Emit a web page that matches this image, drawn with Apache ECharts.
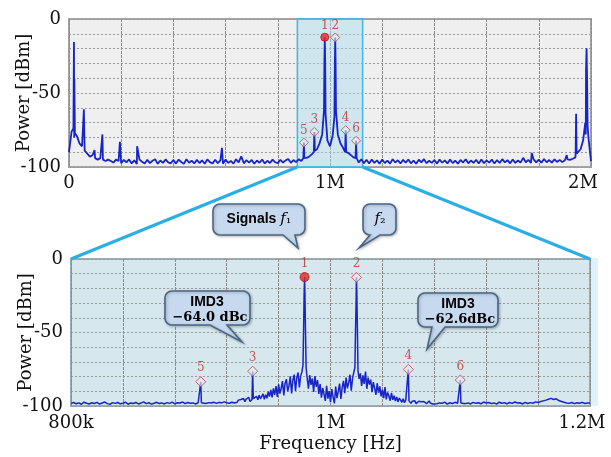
<!DOCTYPE html>
<html><head><meta charset="utf-8">
<script src="https://cdn.jsdelivr.net/npm/echarts@6/dist/echarts.min.js"></script>
<style>html,body{margin:0;padding:0;background:#fff}#c{width:611px;height:457px}</style>
</head><body><div id="c"></div>
<script>
// ---------- DATA ----------
// full-span spectrum, 0 .. 2 MHz, one reading every 10 kHz
const fullStart = 0, fullStep = 10000;
const fullNoise = [
 -90,-76,-80,-79,-84,-86,-89,-91,-93,-92,
 -94,-95,-94,-95,-96,-95,-96,-97,-95,-96,
 -97.5,-95.2,-96.8,-94.9,-97.6,-95.5,-97.9,-95.0,-96.4,-97.7,
 -95.1,-97.4,-95.8,-94.7,-97.8,-95.6,-97.2,-94.9,-96.9,-97.5,
 -95.3,-97.7,-95.0,-96.6,-97.9,-94.8,-97.1,-95.7,-97.6,-95.2,
 -97.3,-95.5,-97.8,-94.9,-96.7,-97.6,-95.1,-97.4,-95.6,-97.8,
 -95.0,-97.2,-95.9,-97.7,-94.8,-96.9,-92.8,-97.5,-95.4,-97.0,
 -95.2,-97.8,-95.6,-97.1,-94.9,-97.6,-95.8,-97.3,-95.0,-96.8,
 -97.4,-95.1,-97.0,-95.5,-94.6,-97.2,-95.3,-96.7,-94.8,-95.9,
 -95,-93.8,-93,-91.5,-90,-88,-84,-78,-80,-82,
 -86,-79,-80,-78,-84,-87,-89,-90.5,-92,-93.5,
 -94.3,-96.9,-94.8,-97.4,-95.1,-97.6,-94.9,-97.2,-95.5,-97.8,
 -95.0,-97.3,-95.7,-97.7,-94.8,-97.0,-95.4,-97.6,-95.2,-97.1,
 -94.9,-97.5,-95.6,-97.8,-95.1,-96.9,-94.7,-97.4,-95.8,-97.2,
 -95.3,-97.7,-94.9,-97.1,-95.5,-97.6,-95.0,-97.3,-95.7,-97.8,
 -95.2,-97.0,-94.8,-97.5,-95.6,-97.2,-95.1,-97.7,-94.9,-97.4,
 -95.5,-97.1,-95.0,-97.6,-95.3,-97.3,-94.7,-96.9,-95.4,-97.5,
 -94.9,-97.2,-95.6,-97.0,-93.8,-96.8,-95.2,-97.3,-94.8,-96.9,
 -95.1,-97.1,-94.6,-96.8,-95.3,-97.0,-94.9,-96.6,-95.2,-96.7,
 -95.4,-94.8,-95.2,-94.4,-93.5,-90,-88,-82,-78,-80,
 -96
];
// narrow spurs / peak shoulders on the full span [Hz, dBm]
const fullSpurs = [
 [17000,-74],[19000,-15.5],[20500,-40],[22500,-77],
 [57000,-61],[98000,-88.5],[128000,-78],[195000,-83],[261000,-86],[586000,-87],
 [898000,-94],[902000,-94],[938000,-90],[942000,-89],
 [977000,-62],[978500,-30],[981500,-28],[983000,-64],
 [1017000,-66],[1018500,-32],[1021500,-30],[1023000,-62],
 [1058000,-90],[1062000,-90],[1098000,-94],[1102000,-94],
 [1773000,-90.5],[1907000,-92],
 [1941000,-92],[1943000,-64],[1945000,-91],
 [1978000,-70],[1981000,-35],[1983000,-19.7],[1985000,-40],[1987000,-72]
];
// zoomed spectrum: floor 800-918 kHz (2 kHz step), skirt 920-1080 kHz (1 kHz step), floor 1082-1200 kHz (2 kHz step)
const zoomLowStart = 800000, zoomLowStep = 2000;
const zoomNoiseLow = [
 -98.2,-97.6,-98.5,-97.9,-98.8,-97.4,-98.1,-98.6,-97.8,-98.3,
 -97.5,-98.7,-98.0,-97.3,-98.4,-98.9,-97.7,-98.2,-97.6,-98.5,
 -98.1,-97.4,-98.8,-97.9,-98.3,-97.6,-98.6,-98.0,-97.2,-98.4,
 -97.8,-98.7,-98.1,-97.5,-98.3,-97.9,-98.6,-97.7,-98.2,-97.4,
 -98.5,-97.8,-98.0,-97.3,-98.4,-97.6,-98.1,-97.9,-98.6,-97.8,
 -98.0,-97.6,-98.3,-97.7,-98.0,-97.4,-98.2,-97.5,-97.9,-97.2
];
const zoomSkirtStart = 920000, zoomSkirtStep = 1000;
const zoomSkirt = [
 -97.8,-96.6,-98.1,-96.9,-97.4,-96.2,-98.0,-96.8,-97.5,-96.0,
 -97.2,-95.6,-96.8,-94.9,-97.0,-95.3,-96.4,-94.2,-96.9,-95.0,
 -96.0,-94.5,-96.2,-93.4,-95.8,-92.6,-95.1,-93.9,-91.8,-95.4,
 -92.4,-94.8,-90.3,-93.6,-89.1,-94.2,-88.0,-92.5,-86.4,-93.8,
 -85.2,-91.6,-87.9,-83.0,-92.8,-84.6,-81.7,-90.1,-86.3,-79.8,
 -91.4,-82.5,-78.6,-89.7,-80.9,-77.2,-87.3,-79.5,-76.8,-84.0,
 -80.0,
 -76.5,-80.8,-88.2,-78.9,-85.6,-81.3,-90.4,-79.6,-86.9,
 -82.4,-91.8,-85.0,-94.3,-87.6,-92.1,-96.5,-86.2,-95.0,-89.8,
 -97.4,-88.5,-93.9,-98.2,-86.8,-94.6,-89.9,-84.7,-95.2,-87.4,
 -82.9,-91.3,-80.6,-88.0,-84.2,-78.7,-89.5,-81.0,-76.9,-83.5,
 -80.0,
 -75.4,-81.6,-77.8,-86.4,-79.2,-84.9,-76.6,-88.3,-80.7,
 -85.5,-82.1,-90.6,-83.8,-87.9,-92.4,-84.5,-91.0,-86.7,-93.5,
 -88.9,-94.7,-87.2,-95.5,-90.8,-93.2,-96.4,-91.1,-95.8,-93.0,
 -96.6,-93.9,-97.2,-94.6,-96.0,-97.5,-95.1,-97.8,-95.9,-96.3,
 -97.0,
 -97.0,-98.2,-96.7,-97.9,-96.5,-98.4,-97.3,-96.8,-98.0,
 -97.1,-98.3,-96.9,-97.7,-98.5,-97.2,-96.6,-98.1,-97.4,-98.6,-97.8
];
const zoomHighStart = 1082000, zoomHighStep = 2000;
const zoomNoiseHigh = [
 -98.5,-97.9,-98.2,-97.4,-98.7,-97.8,-98.3,-97.5,-98.1,
 -98.0,-97.7,-98.4,-97.9,-98.6,-97.5,-98.2,-97.8,-98.5,-97.3,
 -98.0,-97.6,-98.4,-97.9,-98.7,-97.4,-98.1,-97.7,-98.5,-97.6,
 -98.2,-97.3,-98.0,-97.8,-98.6,-97.5,-98.3,-97.7,-98.1,-97.2,
 -97.6,-97.0,-96.5,-96.0,-95.4,-94.8,-95.6,-95.1,-96.3,-96.9,
 -97.5,-97.9,-98.2,-97.6,-98.4,-97.8,-98.1,-97.5,-98.3,-97.9,
 -98.0
];
const zoomSpurs = [
 [899500,-97.5],[900500,-97.8],[939500,-95.5],[940500,-95],
 [978800,-72],[979300,-46],[979700,-23],[980300,-24],[980700,-47],[981200,-74],
 [1018800,-74],[1019300,-48],[1019700,-31],[1020300,-23],[1020700,-46],[1021200,-76],
 [1059500,-96],[1060500,-96.5],[1099500,-97.6],[1100500,-97.9]
];
// markers 1..6 : f1, f2, IMD3 low/high, IMD5 low/high
const markerNames = ['1','2','3','4','5','6'];
const markerFreq  = [980000,1020000,940000,1060000,900000,1100000];
const markerPower = [-12.3,-12.5,-76.3,-75.1,-83.5,-82.3];
// tick labels
const fullTickLabels = {'0':'0','1000000':'1M','2000000':'2M'};
const zoomTickLabels = {'800000':'800k','1000000':'1M','1200000':'1.2M'};
const powerTickLabels = {'0':'0','-50':'-50','-100':'-100'};
const zoomBand = [875000,1125000];

// ---------- BUILD ----------
function buildTrace(blocks, spurs, lo, hi){
  const pts = [];
  markerFreq.forEach((f,i)=>{ if(f>=lo && f<=hi) pts.push([f, markerPower[i]]); });
  const nearMarker = f => markerFreq.some(m => Math.abs(m-f) <= 1200);
  blocks.forEach(b => b.vals.forEach((v,i)=>{ const f = b.start + i*b.step; if(!nearMarker(f)) pts.push([f, v]); }));
  spurs.forEach(p=>pts.push(p));
  pts.sort((a,b)=>a[0]-b[0]);
  return pts;
}
const fullTrace = buildTrace([{start:fullStart, step:fullStep, vals:fullNoise}], fullSpurs, 0, 2000000);
const zoomTrace = buildTrace([
  {start:zoomLowStart, step:zoomLowStep, vals:zoomNoiseLow},
  {start:zoomSkirtStart, step:zoomSkirtStep, vals:zoomSkirt},
  {start:zoomHighStart, step:zoomHighStep, vals:zoomNoiseHigh}], zoomSpurs, 800000, 1200000);

function markerData(big){
  return markerFreq.map((f,i)=>{
    const d = {name: markerNames[i], value:[f, markerPower[i]]};
    if(i===0){ d.symbol='circle'; d.symbolSize = big?9:8; d.itemStyle={color:'#e3262b',borderColor:'#b01818',borderWidth:1}; }
    return d;
  });
}
const SERIF = 'DejaVu Serif';
const TRACE = '#1624c8';
function axisLbl(map, padMax, maxKey){
  return {
    fontFamily: SERIF, fontSize: 18, color:'#111',
    formatter: v => { const k = String(v); if(!(k in map)) return ''; return k===maxKey ? '{r|'+map[k]+'}' : map[k]; },
    rich: { r: {fontFamily: SERIF, fontSize: 18, color:'#111', padding:[0,padMax,0,0]} }
  };
}
function yLbl(){
  return { fontFamily: SERIF, fontSize: 18, color:'#111', margin: 8,
    formatter: v => { const k=String(v); return (k in powerTickLabels)? powerTickLabels[k] : ''; } };
}
const dashX = {show:true, lineStyle:{color:'#8c8c8c', width:1, type:[3,1]}};
const dashY = {show:true, lineStyle:{color:'#9a9a9a', width:1, type:[2,2]}};
const yName = {name:'Power [dBm]', nameLocation:'middle', nameGap:36, nameRotate:90, nameMoveOverlap:false,
  nameTextStyle:{fontFamily:SERIF, fontSize:18, color:'#111'}};

const chart = echarts.init(document.getElementById('c'), null, {renderer:'canvas'});
const option = {
  animation:false,
  grid:[
    {left:69, top:19, width:522, height:148, show:true, backgroundColor:'#efefef', borderColor:'#a3a3a3', borderWidth:2, containLabel:false, outerBoundsMode:'none'},
    {left:71, top:259, width:519, height:147, show:true, backgroundColor:'#d6e7ee', borderColor:'#9aacb4', borderWidth:2, containLabel:false, outerBoundsMode:'none'}
  ],
  xAxis:[
    {type:'value', gridIndex:0, min:0, max:2000000, interval:200000,
     axisLine:{show:false}, axisTick:{show:false}, splitLine:dashX,
     axisLabel:Object.assign(axisLbl(fullTickLabels,16,'2000000'),{margin:7})},
    {type:'value', gridIndex:1, min:800000, max:1200000, interval:40000,
     axisLine:{show:false}, axisTick:{show:false}, splitLine:dashX,
     axisLabel:Object.assign(axisLbl(zoomTickLabels,16,'1200000'),{margin:8}),
     name:'Frequency [Hz]', nameLocation:'middle', nameGap:29, nameMoveOverlap:false,
     nameTextStyle:{fontFamily:SERIF, fontSize:18, color:'#111'}}
  ],
  yAxis:[
    Object.assign({type:'value', gridIndex:0, min:-100, max:0, interval:10,
     axisLine:{show:false}, axisTick:{show:false}, splitLine:dashY, axisLabel:yLbl()}, yName),
    Object.assign({type:'value', gridIndex:1, min:-100, max:0, interval:10,
     axisLine:{show:false}, axisTick:{show:false}, splitLine:dashY, axisLabel:yLbl()}, yName)
  ],
  series:[
    {type:'line', xAxisIndex:0, yAxisIndex:0, data:fullTrace, showSymbol:false, symbol:'none',
     lineStyle:{color:TRACE, width:1.8}, z:3,
     markArea:{silent:true, itemStyle:{color:'rgba(170,220,240,0.45)', borderColor:'#3fb6e8', borderWidth:1.5},
       data:[[{xAxis:zoomBand[0], yAxis:0},{xAxis:zoomBand[1], yAxis:-100}]]}},
    {type:'line', xAxisIndex:1, yAxisIndex:1, data:zoomTrace, showSymbol:false, symbol:'none',
     lineStyle:{color:TRACE, width:1.5}, z:3},
    {type:'scatter', xAxisIndex:0, yAxisIndex:0, data:markerData(false), z:5,
     symbol:'diamond', symbolSize:9, itemStyle:{color:'rgba(240,240,240,0.7)', borderColor:'#b04848', borderWidth:1},
     label:{show:true, position:'top', distance:1, formatter:'{b}', color:'#b3302d', fontFamily:SERIF, fontSize:12}},
    {type:'scatter', xAxisIndex:1, yAxisIndex:1, data:markerData(true), z:5,
     symbol:'diamond', symbolSize:10, itemStyle:{color:'rgba(230,238,242,0.8)', borderColor:'#b04848', borderWidth:1},
     label:{show:true, position:'top', distance:2, formatter:'{b}', color:'#b3302d', fontFamily:SERIF, fontSize:12}}
  ]
};
chart.setOption(option);

// ---------- ANNOTATIONS ----------
function calloutPts(x,y,w,h,r,t1,t2,tx,ty){
  const pts=[];
  function arc(cx,cy,a0,a1){ for(let k=0;k<=6;k++){ const a=(a0+(a1-a0)*k/6)*Math.PI/180; pts.push([cx+r*Math.cos(a), cy+r*Math.sin(a)]); } }
  arc(x+r,y+r,180,270);
  arc(x+w-r,y+r,270,360);
  arc(x+w-r,y+h-r,0,90);
  pts.push([t2,y+h],[tx,ty],[t1,y+h]);
  arc(x+r,y+h-r,90,180);
  return pts;
}
function callout(x,y,w,h,t1,t2,tx,ty){
  return {type:'polygon', z:20, shape:{points:calloutPts(x,y,w,h,7,t1,t2,tx,ty)},
    style:{fill:'#c6d9ef', stroke:'#4a6684', lineWidth:1.6, shadowBlur:3, shadowColor:'rgba(0,0,0,0.25)', shadowOffsetX:1, shadowOffsetY:1}};
}
function txt(x,y,text,rich){
  return {type:'text', z:21, x:x, y:y, style:{text:text, rich:rich, align:'center', verticalAlign:'middle'}};
}
const SANSB = {fontFamily:'Liberation Sans', fontWeight:'bold', fontSize:14, color:'#1b1b24'};
const FIT = {fontFamily:SERIF, fontStyle:'italic', fontSize:15, color:'#1b1b24'};
const SUB = {fontFamily:SERIF, fontSize:14, color:'#1b1b24'};
const RED = {fontFamily:SERIF, fontWeight:'bold', fontSize:13, color:'#ff2424'};

const b0 = chart.convertToPixel({xAxisIndex:0, yAxisIndex:0}, [zoomBand[0], -100]);
const b1 = chart.convertToPixel({xAxisIndex:0, yAxisIndex:0}, [zoomBand[1], -100]);
const z0 = chart.convertToPixel({xAxisIndex:1, yAxisIndex:1}, [800000, 0]);
const z1 = chart.convertToPixel({xAxisIndex:1, yAxisIndex:1}, [1200000, 0]);
const z1b = chart.convertToPixel({xAxisIndex:1, yAxisIndex:1}, [1200000, -100]);

chart.setOption({graphic:[
  {type:'rect', z:1, shape:{x:z1[0]+1, y:z1[1]-1, width:7, height:z1b[1]-z1[1]+1}, style:{fill:'#dff2fb'}},
  {type:'line', z:10, shape:{x1:b0[0], y1:b0[1], x2:z0[0], y2:z0[1]}, style:{stroke:'#2aaee6', lineWidth:3}},
  {type:'line', z:10, shape:{x1:b1[0], y1:b1[1], x2:z1[0], y2:z1[1]}, style:{stroke:'#2aaee6', lineWidth:3}},
  callout(213,204,92,31,283,295,298,248),
  txt(259,219,'{s|Signals }{f|f}{n|₁}',{s:SANSB,f:FIT,n:SUB}),
  callout(363,204,33,31,370,380,359,248),
  txt(380,219,'{f|f}{n|₂}',{f:FIT,n:SUB}),
  callout(165,291,85,34,210,227,242,342),
  txt(207,302,'{s|IMD3}',{s:SANSB}),
  txt(210,318,'{r|\u221264.0 dBc}',{r:RED}),
  callout(418,293,80,34,432,445,427,349),
  txt(458,304,'{s|IMD3}',{s:SANSB}),
  txt(460,320,'{r|\u221262.6dBc}',{r:RED})
]});
</script>
</body></html>
